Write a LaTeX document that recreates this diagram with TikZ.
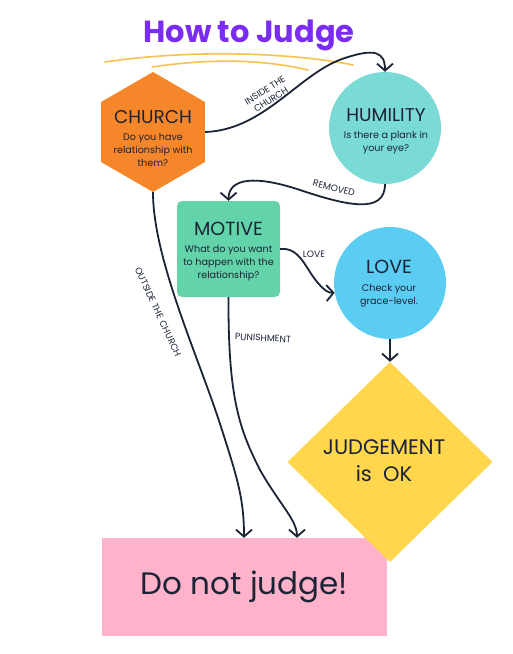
\documentclass[tikz,border=0pt]{standalone}
\usepackage{fontspec}
\setmainfont{Poppins}
\usetikzlibrary{positioning,shapes.geometric,arrows.meta}
\definecolor{ink}{HTML}{1B2336}
\definecolor{titlepurple}{HTML}{7B2CF3}
\definecolor{churchorange}{HTML}{F5862A}
\definecolor{humilityteal}{HTML}{7ADAD6}
\definecolor{motivegreen}{HTML}{63D3A9}
\definecolor{loveblue}{HTML}{5BCDF3}
\definecolor{judgeyellow}{HTML}{FFD64C}
\definecolor{nojudgepink}{HTML}{FFB3CA}
\definecolor{decoorange}{HTML}{F7C050}
\begin{document}
\begin{tikzpicture}[
    x=1pt,y=-1pt,
    font=\fontsize{9.6}{13}\selectfont,text=ink,
    base/.style={align=center,inner sep=0pt},
    hexbox/.style={base,regular polygon,regular polygon sides=6,shape border rotate=30,minimum size=120pt,fill=churchorange},
    roundbox/.style={base,circle,minimum size=112pt},
    motivebox/.style={base,rectangle,rounded corners=5pt,minimum width=103pt,minimum height=96pt,fill=motivegreen},
    judgebox/.style={base,diamond,minimum width=205pt,minimum height=200pt,fill=judgeyellow},
    endbox/.style={base,rectangle,minimum width=285pt,minimum height=98pt,fill=nojudgepink,font=\fontsize{31}{36}\selectfont},
    boxtext/.style={base,anchor=north},
    link/.style={draw=ink,line width=1.8pt,-{Straight Barb[length=7pt,width=16pt]}},
    linklabel/.style={font=\fontsize{9.2}{11}\selectfont,inner sep=1pt,align=center},
    deco/.style={draw=decoorange,line width=1.6pt,line cap=round}
  ]
  \useasboundingbox (0,0) rectangle (512,654);

  \node(title) [font=\fontsize{30.5}{34}\selectfont\bfseries,text=titlepurple] at (249,35) {How to Judge};
  \draw[deco] (105,62) .. controls (200,48) and (300,54) .. (353,65);
  \draw[deco] (152,67) .. controls (220,57) and (270,61) .. (308,70);

  % shapes
  \node(church) [hexbox] at (153,132) {};
  \node(humility) [roundbox,fill=humilityteal] at (385,128) {};
  \node(motive) [motivebox] at (228.5,249) {};
  \node(love) [roundbox,fill=loveblue] at (390,283) {};
  \node(nojudge) [endbox] at (244.5,587) {Do not judge!};
  \node(judge) [judgebox] at (390,462) {};

  % texts in the shapes
  \node(churchtext) [boxtext] at (153,110.5) {{\fontsize{18.5}{22}\selectfont CHURCH}\\[4pt]Do you have\\relationship with\\them?};
  \node(humilitytext) [boxtext] at (386,108.5) {{\fontsize{18.5}{22}\selectfont HUMILITY}\\[4pt]Is there a plank in\\your eye?};
  \node(motivetext) [boxtext] at (228.5,222) {{\fontsize{19}{22}\selectfont MOTIVE}\\[4pt]What do you want\\to happen with the\\relationship?};
  \node(lovetext) [boxtext] at (389,260) {{\fontsize{19}{22}\selectfont LOVE}\\[5pt]Check your\\grace-level.};
  \node(judgetext) [boxtext,font=\fontsize{21}{27}\selectfont] at (384,439) {JUDGEMENT\\is\ \ OK};

  % connectors
  \draw[link] (church.east) .. controls (265,130) and (300,72) .. (345,58) .. controls (375,48) and (385,52) .. (humility.north);
  \node(inside) [linklabel,rotate=33] at (268,95) {INSIDE THE\\CHURCH};

  \draw[link] (humility.south) .. controls (385,215) and (345,205) .. (300,190) .. controls (255,175) and (228.5,178) .. (motive.north);
  \node(removed) [linklabel,rotate=-15] at (334,188) {REMOVED};

  \draw[link] (motive.east) .. controls (300,247) and (305,268) .. (318,283) .. controls (324,290) and (328,293) .. (love.190);
  \node(lovelabel) [linklabel] at (314,254) {LOVE};

  \draw[link] (love.south) -- (judge.north);

  \draw[link] (church.south) .. controls (153,260) and (200,360) .. (222,430) .. controls (238,480) and (244,500) .. ([xshift=-0.5pt]nojudge.north);
  \node(outside) [linklabel,rotate=-65] at (158,312) {OUTSIDE THE CHURCH};

  \draw[link] (motive.south) .. controls (228,400) and (240,430) .. (260,470) .. controls (280,505) and (297,520) .. ([xshift=52.5pt]nojudge.north);
  \node(punish) [linklabel,rotate=-3] at (263,338) {PUNISHMENT};
\end{tikzpicture}
\end{document}
